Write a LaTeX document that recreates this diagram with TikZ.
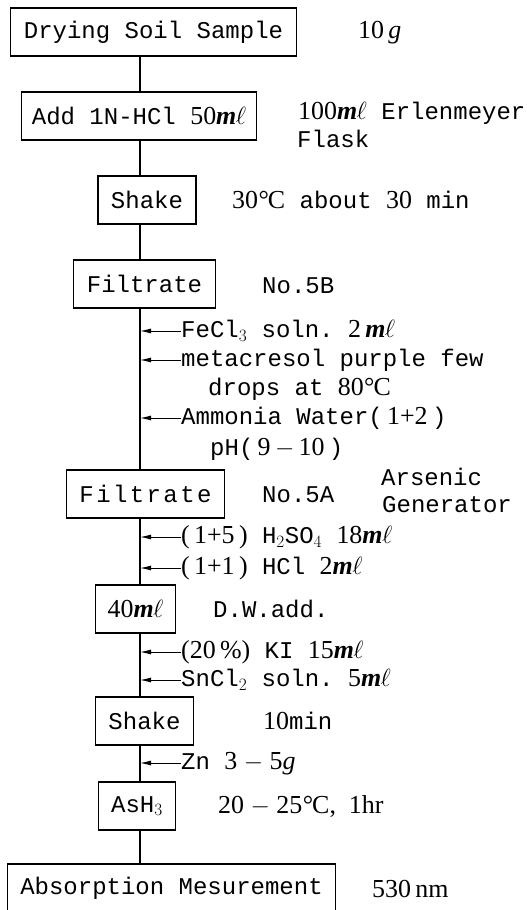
\documentclass[tikz,border=0pt]{standalone}
\usepackage{fontspec}
\setmainfont[Scale=1.08]{Liberation Serif}
\newfontfamily\mono{Liberation Mono}
\newfontfamily\spacedmono[LetterSpace=10]{Liberation Mono}
\usetikzlibrary{positioning, arrows.meta}
\newcommand{\ml}{\textit{\textbf{m}}\kern-0.5pt$\ell$}
\newcommand{\degc}{\kern0.5pt°\kern-1pt C}

\tikzset{
  stepbox/.style={draw, line width=1.2pt, inner xsep=13pt, minimum height=48pt,
    font=\mono},
  note/.style={anchor=base west, inner sep=0pt, font=\mono},
  feed/.style={line width=1pt, -{Latex[length=11pt, width=5pt]}},
  spine/.style={line width=1.1pt}
}

\begin{document}
\begin{tikzpicture}[x=1pt, y=-1pt]
  \useasboundingbox (0,0) rectangle (527,910);
  \fontsize{24}{29}\selectfont
  \coordinate (sp) at (140,0);

  % process steps
  \node[stepbox] (dry)    at (153.5,32)  {Drying Soil Sample};
  \node[stepbox, inner xsep=10pt] (hcl) at (139,116) {Add 1N-HCl {\rmfamily 50\ml}};
  \node[stepbox] (shakeA) at (147,200)   {Shake};
  \node[stepbox] (filtB)  at (144.5,284) {Filtrate};
  \node[stepbox] (filtA)  at (145.5,494) {\spacedmono Filtrate};
  \node[stepbox, inner xsep=12pt] (dw) at (135.5,609) {\rmfamily 40\ml};
  \node[stepbox] (shakeB) at (144.5,721) {Shake};
  \node[stepbox] (ash)    at (137,806)   {AsH$_3$};
  \node[stepbox] (absorb) at (171.5,888) {Absorption Mesurement};

  % notes beside the steps
  \node[note] (nDry)   at (358,38)  {\rmfamily 10\,\textit{g}};
  \node[note] (nFlask) at (298,119) {{\rmfamily 100\ml} Erlenmeyer};
  \node[note] (nFlaskB) at (297,147) {Flask};
  \node[note] (nShakeA) at (232,208) {{\rmfamily 30\degc} about {\rmfamily 30} min};
  \node[note] (nFiltB) at (262,293) {No.5B};
  \node[note] (nDrops) at (208,395) {drops at {\rmfamily 80\degc}};
  \node[note] (nPh)    at (210,455) {pH({\rmfamily\,9\,$-$\,10\,})};
  \node[note] (nFiltA) at (262,502) {No.5A};
  \node[note] (nGen)   at (381,485) {Arsenic};
  \node[note] (nGenB)  at (382,512) {Generator};
  \node[note] (nDw)    at (213,617) {D.W.add.};
  \node[note] (nShakeB) at (263,729) {{\rmfamily 10}min};
  \node[note] (nAsh)   at (218,813) {\rmfamily 20 $-$ 25\degc,\ \ 1hr};
  \node[note] (nAbs)   at (372,897) {\rmfamily 530\,nm};

  % reagents fed into the line
  \foreach \n/\y/\txt in {%
      fe/331/{FeCl$_3$ soln.\ {\rmfamily 2\,\ml}},
      mc/360/{metacresol purple few},
      am/418/{Ammonia Water({\rmfamily\,1+2\,})},
      so/537/{{\rmfamily(\,1+5\,)} H$_2$SO$_4$ {\rmfamily 18\ml}},
      hc/568/{{\rmfamily(\,1+1\,)} HCl {\rmfamily 2\ml}},
      ki/652/{{\rmfamily(20\,\%)} KI {\rmfamily 15\ml}},
      sn/680/{SnCl$_2$ soln.\ {\rmfamily 5\ml}},
      zn/763/{Zn {\rmfamily 3 $-$ 5\textit{g}}}%
  }{
    \coordinate (\n) at (181,\y);
    \node[note, yshift=-6.5pt] (t\n) at (\n) {\txt};
    \draw[feed] (\n) -- (\n -| sp);
  }

  % main line
  \draw[spine] (dry.south -| sp) -- (hcl.north -| sp);
  \draw[spine] (hcl.south -| sp) -- (shakeA.north -| sp);
  \draw[spine] (shakeA.south -| sp) -- (filtB.north -| sp);
  \draw[spine] (filtB.south -| sp) -- (filtA.north -| sp);
  \draw[spine] (filtA.south -| sp) -- (dw.north -| sp);
  \draw[spine] (dw.south -| sp) -- (shakeB.north -| sp);
  \draw[spine] (shakeB.south -| sp) -- (ash.north -| sp);
  \draw[spine] (ash.south -| sp) -- (absorb.north -| sp);
\end{tikzpicture}
\end{document}
